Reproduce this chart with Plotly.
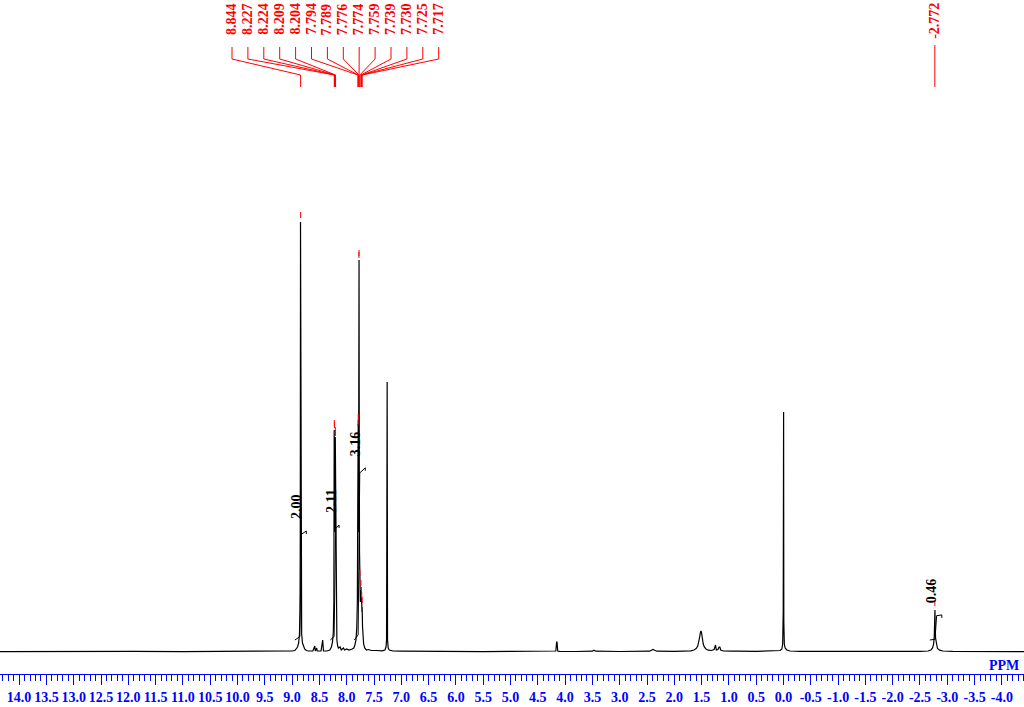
import plotly.graph_objects as go

# ---------------- DATA ----------------
# 1H NMR trace (ppm, intensity in arbitrary units)
spectrum_ppm = [
    14.35, 13.60, 12.80, 11.90, 11.00, 10.20, 9.60, 9.20, 9.00, 8.95, 8.92, 8.90, 8.88, 8.865,
    8.855, 8.850, 8.846, 8.844, 8.840, 8.835, 8.825, 8.81, 8.79, 8.77, 8.74, 8.70, 8.62,
    8.585, 8.575, 8.55, 8.54, 8.47, 8.44, 8.425, 8.36, 8.31, 8.28, 8.26, 8.245, 8.235,
    8.229, 8.227, 8.226, 8.224, 8.218, 8.212, 8.209, 8.206, 8.204, 8.198, 8.19, 8.18, 8.165,
    8.15, 8.12, 8.10, 8.06, 8.04, 8.00, 7.96, 7.90, 7.87, 7.85, 7.83, 7.815, 7.805, 7.797,
    7.794, 7.791, 7.789, 7.784, 7.779, 7.776, 7.774, 7.770, 7.765, 7.759, 7.750, 7.742,
    7.739, 7.734, 7.730, 7.727, 7.725, 7.720, 7.717, 7.710, 7.70, 7.69, 7.67, 7.64, 7.60,
    7.55, 7.45, 7.35, 7.30, 7.28, 7.27, 7.263, 7.259, 7.252, 7.24, 7.22, 7.15, 7.00, 6.50,
    6.00, 5.50, 5.00, 4.60, 4.22, 4.17, 4.155, 4.148, 4.135, 4.10, 3.80, 3.50, 3.47, 3.44,
    3.00, 2.45, 2.42, 2.39, 2.36, 2.32, 2.00, 1.80, 1.70, 1.64, 1.60, 1.57, 1.55, 1.535,
    1.52, 1.51, 1.50, 1.485, 1.47, 1.45, 1.42, 1.38, 1.32, 1.27, 1.255, 1.245, 1.23, 1.20,
    1.18, 1.165, 1.15, 1.10, 0.95, 0.88, 0.85, 0.50, 0.20, 0.06, 0.03, 0.015, 0.005, 0.002,
    -0.002, -0.006, -0.015, -0.03, -0.06, -0.12, -0.30, -1.00, -1.50, -2.00, -2.50, -2.65,
    -2.70, -2.73, -2.75, -2.762, -2.768, -2.771, -2.772, -2.774, -2.778, -2.785, -2.80,
    -2.82, -2.86, -2.92, -3.10, -3.60, -4.405,
]
spectrum_intensity = [
    0.3, 0.5, 0.3, 0.6, 0.4, 0.5, 0.6, 0.8, 1.0, 1.5, 3, 5, 9, 18,
    40, 120, 430, 430, 110, 40, 18, 9, 5, 3, 1.5, 1, 1,
    6, 1, 4, 1, 1, 12, 1, 1, 2, 5, 10, 20, 50,
    222, 222, 200, 220, 120, 150, 215, 190, 212, 60, 25, 12, 6,
    4, 5, 2, 4, 2, 3, 2, 3, 4, 7, 12, 25, 50, 150,
    222, 200, 228, 120, 250, 390, 392, 200, 100, 72, 50, 60,
    62, 50, 55, 48, 50, 40, 45, 25, 14, 8, 4, 2, 2.5,
    1.5, 1.5, 1.2, 2, 5, 12, 270, 270, 12, 4, 2, 1, 0.8, 0.5,
    0.6, 0.4, 0.6, 0.5, 0.6, 1, 10, 10, 1, 0.6, 0.5, 0.8, 1.8, 0.8,
    0.5, 0.8, 1.8, 2.6, 1.8, 0.8, 0.6, 0.8, 1.2, 2, 3.5, 6, 10, 15,
    20, 21, 19, 13, 8, 5, 3, 1.8, 1.5, 2.5, 7, 7, 2, 2.5,
    5, 5, 2, 1, 0.8, 1.2, 0.8, 0.6, 0.8, 1.5, 3, 8, 40, 240,
    240, 30, 8, 4, 2, 1, 0.7, 0.5, 0.8, 0.5, 0.6, 1,
    2, 4, 8, 16, 30, 42, 42, 42, 28, 14, 7,
    3.5, 1.8, 1, 0.6, 0.5, 0.4,
]

# picked peaks (red labels)
picked_ppm = [8.844, 8.227, 8.224, 8.209, 8.204, 7.794, 7.789, 7.776, 7.774,
              7.759, 7.739, 7.730, 7.725, 7.717, -2.772]
picked_intensity = [430, 222, 220, 215, 212, 222, 228, 390, 392,
                    72, 62, 55, 50, 45, 42]
picked_labels = ["8.844", "8.227", "8.224", "8.209", "8.204", "7.794", "7.789",
                 "7.776", "7.774", "7.759", "7.739", "7.730", "7.725", "7.717", "-2.772"]

# integrals
integral_values = [2.00, 2.11, 3.16, 0.46]
integral_labels = ["2.00", "2.11", "3.16", "0.46"]
integral_center = [8.844, 8.216, 7.776, -2.79]
integral_left = [8.95, 8.30, 7.86, -2.68]
integral_right = [8.74, 8.14, 7.66, -2.90]

# axis ticks
tick_values = [14.0, 13.5, 13.0, 12.5, 12.0, 11.5, 11.0, 10.5, 10.0, 9.5, 9.0, 8.5, 8.0,
               7.5, 7.0, 6.5, 6.0, 5.5, 5.0, 4.5, 4.0, 3.5, 3.0, 2.5, 2.0, 1.5, 1.0, 0.5,
               0.0, -0.5, -1.0, -1.5, -2.0, -2.5, -3.0, -3.5, -4.0]
tick_labels = ["14.0", "13.5", "13.0", "12.5", "12.0", "11.5", "11.0", "10.5", "10.0",
               "9.5", "9.0", "8.5", "8.0", "7.5", "7.0", "6.5", "6.0", "5.5", "5.0", "4.5",
               "4.0", "3.5", "3.0", "2.5", "2.0", "1.5", "1.0", "0.5", "0.0", "-0.5",
               "-1.0", "-1.5", "-2.0", "-2.5", "-3.0", "-3.5", "-4.0"]

# ---------------- LAYOUT CONSTANTS ----------------
W, H = 1024, 707
AXIS_PX = 674          # pixel row of the blue axis line
BASE_PX = 652          # pixel row of the spectrum baseline
X_LEFT, X_RIGHT = 14.35, -4.405
PX_PER_PPM = W / (X_LEFT - X_RIGHT)
INT_SCALE = 54.5       # integral height per unit
INT_BASE = 12
RED = "#FF0000"
BLUE = "#0000FF"
SERIF = "Liberation Serif"


def px_to_ppm(px):
    return X_LEFT - px / PX_PER_PPM


def h_of_row(row):   # pixel row -> y data unit
    return BASE_PX - row


fig = go.Figure()

# spectrum
fig.add_trace(go.Scatter(x=spectrum_ppm, y=spectrum_intensity, mode="lines",
                         line=dict(color="black", width=1.2), hoverinfo="skip"))

# integral curves
ix, iy = [], []
for v, c, l, r in zip(integral_values, integral_center, integral_left, integral_right):
    d = v * INT_SCALE
    ix += [l, c + 0.015, c, c - 0.015, r, r, None]
    iy += [INT_BASE, INT_BASE + 0.03 * d, INT_BASE + 0.5 * d, INT_BASE + 0.97 * d,
           INT_BASE + d, INT_BASE + d - 3, None]
fig.add_trace(go.Scatter(x=ix, y=iy, mode="lines", line=dict(color="black", width=1),
                         hoverinfo="skip"))

# red pick markers above peak tops
mx, my = [], []
for p, h in zip(picked_ppm, picked_intensity):
    mx += [p, p, None]
    my += [h + 4, h + 10, None]
fig.add_trace(go.Scatter(x=mx, y=my, mode="lines", line=dict(color=RED, width=1),
                         hoverinfo="skip"))

# label connectors
group_n = 14
label_x_px = [232 + 15.9 * i for i in range(group_n)]
cx, cy = [], []
annotations = []
for i in range(len(picked_ppm)):
    p = picked_ppm[i]
    if i < group_n:
        lx = px_to_ppm(label_x_px[i])
        cx += [lx, lx, p, p, None]
        cy += [h_of_row(47), h_of_row(59), h_of_row(75), h_of_row(87), None]
    else:
        lx = p
        cx += [p, p, None]
        cy += [h_of_row(45), h_of_row(87), None]
    annotations.append(dict(x=lx, xref="x", y=1 - 1 / AXIS_PX, yref="paper",
                            xanchor="center", yanchor="top", text=picked_labels[i],
                            textangle=-90, showarrow=False,
                            font=dict(family=SERIF, size=14, color=RED, weight="bold")))
fig.add_trace(go.Scatter(x=cx, y=cy, mode="lines", line=dict(color=RED, width=1),
                         hoverinfo="skip"))

# integral labels
for v, lab, c in zip(integral_values, integral_labels, integral_center):
    annotations.append(dict(x=c + 4 / PX_PER_PPM, xref="x", y=INT_BASE + v * INT_SCALE + 10,
                            yref="y", xanchor="center", yanchor="bottom", text=lab,
                            textangle=-90, showarrow=False,
                            font=dict(family=SERIF, size=14, color="black", weight="bold")))

# PPM
annotations.append(dict(x=1021 / W, xref="paper", y=(AXIS_PX - 665) / AXIS_PX, yref="paper",
                        xanchor="right", yanchor="middle", text="PPM", showarrow=False,
                        font=dict(family=SERIF, size=14, color=BLUE, weight="bold")))

fig.update_layout(
    width=W, height=H,
    margin=dict(l=0, r=0, t=0, b=H - AXIS_PX, pad=0, autoexpand=False),
    paper_bgcolor="white", plot_bgcolor="white",
    showlegend=False,
    annotations=annotations,
    xaxis=dict(range=[X_LEFT, X_RIGHT], autorange=False, showgrid=False, zeroline=False,
               showline=True, linecolor=BLUE, linewidth=1,
               ticks="outside", ticklen=10, tickwidth=1, tickcolor=BLUE,
               tickmode="array", tickvals=tick_values, ticktext=tick_labels,
               tickangle=0, automargin=False,
               tickfont=dict(family=SERIF, size=14, color=BLUE, weight="bold"),
               minor=dict(ticks="outside", ticklen=6, tickwidth=1, tickcolor=BLUE,
                          tick0=0, dtick=0.1, showgrid=False),
               fixedrange=True),
    yaxis=dict(range=[-(AXIS_PX - BASE_PX), BASE_PX], autorange=False, visible=False,
               fixedrange=True),
)

fig.write_html(
    "out.html",
    config={"displayModeBar": False, "staticPlot": True},
    post_script="document.body.style.margin='0';document.body.style.overflow='hidden';",
)
